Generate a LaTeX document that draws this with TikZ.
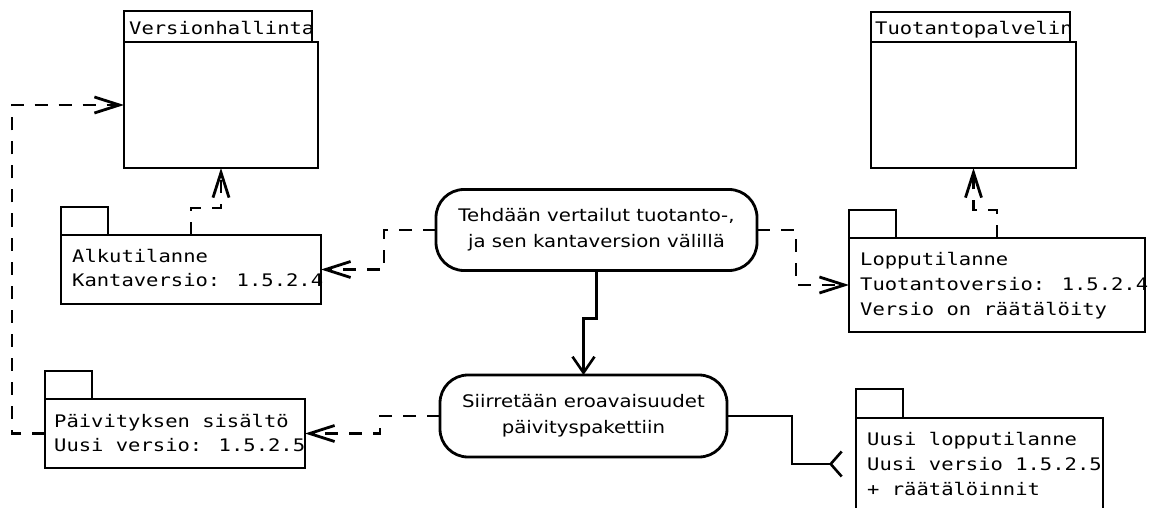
\documentclass[tikz,border=0pt]{standalone}
\usepackage{fontspec}
\usetikzlibrary{arrows.meta}
\newfontfamily\monof[FakeStretch=1.185]{DejaVu Sans Mono}
\newfontfamily\sansf[FakeStretch=1.14]{DejaVu Sans}
\begin{document}
\begin{tikzpicture}[x=1pt,y=-1pt,
  box/.style={draw, line width=2.8pt, inner sep=0pt, outer sep=0pt, anchor=north west},
  ptext/.style={anchor=base west, inner sep=0pt, font=\monof\fontsize{17.3pt}{24pt}\selectfont},
  action/.style={draw, line width=2.8pt, rounded corners=28pt, align=center, inner sep=0pt, outer sep=0pt, font=\sansf\fontsize{17.3pt}{26pt}\selectfont},
  dep/.style={line width=2.8pt, dash pattern=on 13pt off 11pt, -{Straight Barb[length=25pt,width=16pt]}},
  flow/.style={line width=2.6pt, -{Straight Barb[length=16pt,width=22pt]}},
  foot/.style={line width=2.6pt, -{Straight Barb[reversed,length=11pt,width=25pt]}},
]
\useasboundingbox (0,0) rectangle (1152,508);
\clip (0,0) rectangle (1152,508);
% Versionhallinta
\node[box, minimum width=188pt, minimum height=31pt] (vhtab) at (124,11) {};
\node[box, minimum width=194pt, minimum height=126pt] (vh) at (124,42) {};
\node[ptext] (vhlabel) at (129,35) {Versionhallinta};
% Tuotantopalvelin
\node[box, minimum width=199pt, minimum height=30pt] (tptab) at (871,12) {};
\node[box, minimum width=205pt, minimum height=126pt] (tp) at (871,42) {};
\node[ptext] (tplabel) at (875,35) {Tuotantopalvelin};
% Alkutilanne
\node[box, minimum width=47pt, minimum height=28pt] (alktab) at (61,207) {};
\node[box, minimum width=260pt, minimum height=69pt] (alk) at (61,235) {};
\node[ptext] (alk1) at (72,262.5) {Alkutilanne};
\node[ptext] (alk2) at (72,286.5) {Kantaversio: 1.5.2.4};
% Lopputilanne
\node[box, minimum width=47pt, minimum height=28pt] (loptab) at (849,210) {};
\node[box, minimum width=296pt, minimum height=94pt] (lop) at (849,238) {};
\node[ptext] (lop1) at (860,265.7) {Lopputilanne};
\node[ptext] (lop2) at (860,290.5) {Tuotantoversio: 1.5.2.4};
\node[ptext] (lop3) at (860,315) {Versio on räätälöity};
% Paivityksen sisalto
\node[box, minimum width=47pt, minimum height=28pt] (ptab) at (45,371) {};
\node[box, minimum width=260pt, minimum height=69pt] (p) at (45,399) {};
\node[ptext] (p1) at (54,427.7) {Päivityksen sisältö};
\node[ptext] (p2) at (54,451.7) {Uusi versio: 1.5.2.5};
% Uusi lopputilanne
\node[box, minimum width=47pt, minimum height=29pt] (utab) at (856,389) {};
\node[box, minimum width=247pt, minimum height=122pt] (u) at (856,418) {};
\node[ptext] (u1) at (867,445) {Uusi lopputilanne};
\node[ptext] (u2) at (867,470) {Uusi versio 1.5.2.5};
\node[ptext] (u3) at (867,495) {+ räätälöinnit};
% actions
\node[action, minimum width=321pt, minimum height=81pt] (t) at (596.5,230) {Tehdään vertailut tuotanto-,\\ja sen kantaversion välillä};
\node[action, minimum width=287pt, minimum height=82pt] (s) at (583.5,416) {Siirretään eroavaisuudet\\päivityspakettiin};
% connectors
\draw[dep] (t.west) -- ++(-52,0) |- (alk.east);
\draw[dep] (t.east) -- ++(39,0) |- (lop.west);
\draw[dep] (alk.north) -- ++(0,-27) -| (vh.south);
\draw[dep] (lop.north) -- ++(0,-28) -| (tp.south);
\draw[dep] (p.west) -- ++(-33,0) |- (vh.west);
\draw[dep] (s.west) -- ++(-60,0) |- (p.east);
\draw[flow] (t.south) -- ++(0,48) -| (s.north);
\draw[foot] (s.east) -- ++(65,0) |- ([xshift=-13pt,yshift=15pt]u.west);
\end{tikzpicture}
\end{document}
